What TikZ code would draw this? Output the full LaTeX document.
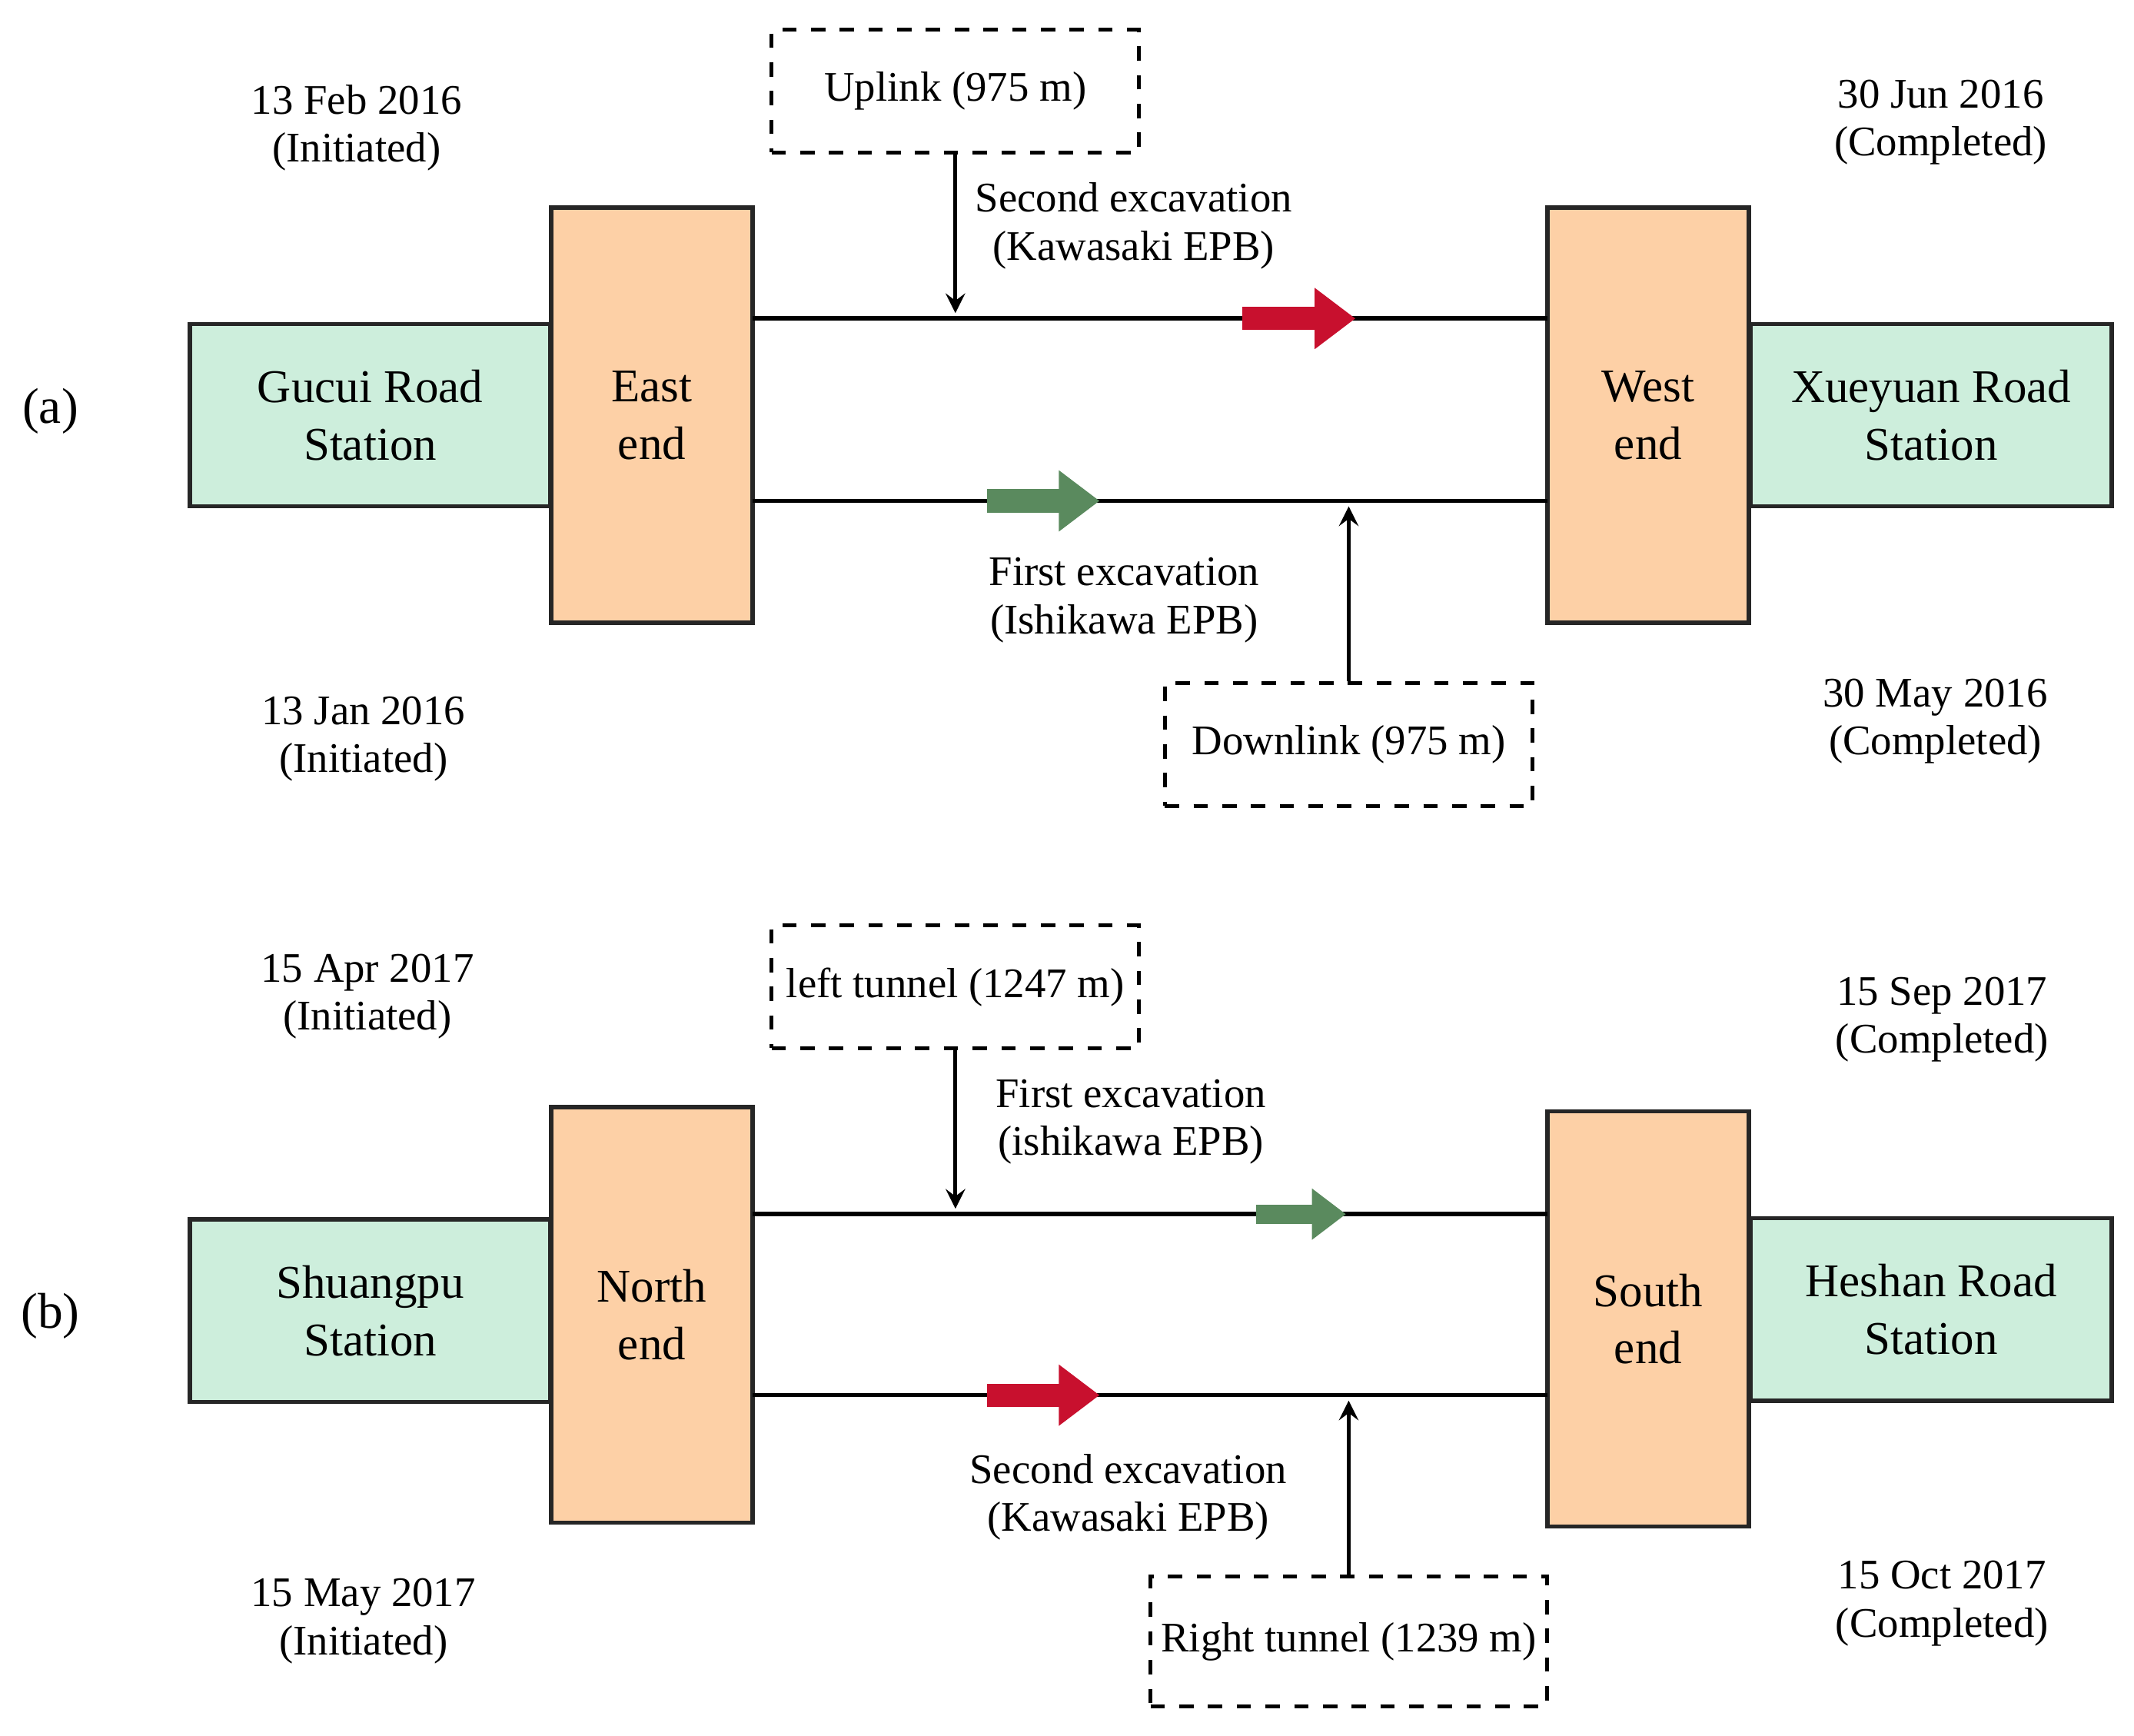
\documentclass[tikz,border=0pt]{standalone}
\usepackage{fontspec}
\setmainfont{Liberation Serif}
\usetikzlibrary{arrows.meta}
\definecolor{stgreen}{HTML}{CDEEDC}
\definecolor{endorange}{HTML}{FDD0A6}
\definecolor{redarr}{HTML}{C8102E}
\definecolor{greenarr}{HTML}{5A8A5E}
\tikzset{
  station/.style={draw=black!85, line width=0.9pt, fill=stgreen, minimum width=2.65cm,
    minimum height=1.34cm, align=center, font=\fontsize{9.8}{12}\selectfont, inner sep=0pt},
  shaft/.style={draw=black!85, line width=0.9pt, fill=endorange, minimum width=1.48cm,
    minimum height=3.05cm, align=center, font=\fontsize{9.8}{12}\selectfont, inner sep=0pt},
  tunnel/.style={draw, dashed, line width=0.8pt, minimum width=2.7cm, minimum height=0.9cm,
    inner xsep=1pt, font=\fontsize{8.8}{10.5}\selectfont},
  lbl/.style={align=center, font=\fontsize{8.8}{10}\selectfont},
  fat/.style={draw=#1, line width=0.17cm, -{Triangle[length=0.3cm, width=0.43cm]}},
  push/.style={->, >=stealth, line width=0.8pt},
  track/.style={line width=0.9pt}
}
\begin{document}
\begin{tikzpicture}[x=0.01cm, y=-0.01cm]
  \useasboundingbox (0,0) rectangle (1568,1275);
  % (a)
  \node at (37,302) {\fontsize{10.5}{12}\selectfont (a)};
  \node[station] (gucui) at (272,305) {Gucui Road\\Station};
  \node[shaft] (east) at (479,305) {East\\end};
  \node[shaft] (west) at (1211,305) {West\\end};
  \node[station] (xueyuan) at (1419,305) {Xueyuan Road\\Station};
  \coordinate (ea1) at (553,234); \coordinate (wa1) at (1137,234);
  \coordinate (ea2) at (553,368); \coordinate (wa2) at (1137,368);
  \draw[track] (ea1) -- (wa1);
  \draw[track] (ea2) -- (wa2);
  \coordinate (ra0) at (913,234); \coordinate (ra1) at (996,234);
  \draw[fat=redarr] (ra0) -- (ra1);
  \coordinate (ga0) at (725,368); \coordinate (ga1) at (808,368);
  \draw[fat=greenarr] (ga0) -- (ga1);
  \node[tunnel] (uplink) at (702,67) {Uplink (975 m)};
  \coordinate (upin) at (702,230);
  \draw[push] (uplink) -- (upin);
  \node[tunnel] (downlink) at (991,547) {Downlink (975 m)};
  \coordinate (downin) at (991,372);
  \draw[push] (downlink) -- (downin);
  \node[lbl] at (833,166) {Second excavation\\(Kawasaki EPB)};
  \node[lbl] at (826,441) {First excavation\\(Ishikawa EPB)};
  \node[lbl] at (262,94) {13 Feb 2016\\(Initiated)};
  \node[lbl] at (1426,90) {30 Jun 2016\\(Completed)};
  \node[lbl] at (267,543) {13 Jan 2016\\(Initiated)};
  \node[lbl] at (1422,530) {30 May 2016\\(Completed)};
  % (b)
  \node at (37,967) {\fontsize{10.5}{12}\selectfont (b)};
  \node[station] (shuangpu) at (272,963) {Shuangpu\\Station};
  \node[shaft] (north) at (479,966) {North\\end};
  \node[shaft] (south) at (1211,969) {South\\end};
  \node[station] (heshan) at (1419,962) {Heshan Road\\Station};
  \coordinate (nb1) at (553,892); \coordinate (sb1) at (1137,892);
  \coordinate (nb2) at (553,1025); \coordinate (sb2) at (1137,1025);
  \draw[track] (nb1) -- (sb1);
  \draw[track] (nb2) -- (sb2);
  \coordinate (gb0) at (923,892); \coordinate (gb1) at (989,892);
  \draw[fat=greenarr, line width=0.14cm, -{Triangle[length=0.25cm, width=0.36cm]}] (gb0) -- (gb1);
  \coordinate (rb0) at (725,1025); \coordinate (rb1) at (808,1025);
  \draw[fat=redarr] (rb0) -- (rb1);
  \node[tunnel] (left) at (702,725) {left tunnel (1247 m)};
  \coordinate (leftin) at (702,888);
  \draw[push] (left) -- (leftin);
  \node[tunnel, minimum width=2.91cm, minimum height=0.95cm] (right) at (991,1206) {Right tunnel (1239 m)};
  \coordinate (rightin) at (991,1029);
  \draw[push] (right) -- (rightin);
  \node[lbl] at (831,824) {First excavation\\(ishikawa EPB)};
  \node[lbl] at (829,1100) {Second excavation\\(Kawasaki EPB)};
  \node[lbl] at (270,732) {15 Apr 2017\\(Initiated)};
  \node[lbl] at (1427,749) {15 Sep 2017\\(Completed)};
  \node[lbl] at (267,1191) {15 May 2017\\(Initiated)};
  \node[lbl] at (1427,1178) {15 Oct 2017\\(Completed)};
\end{tikzpicture}
\end{document}
